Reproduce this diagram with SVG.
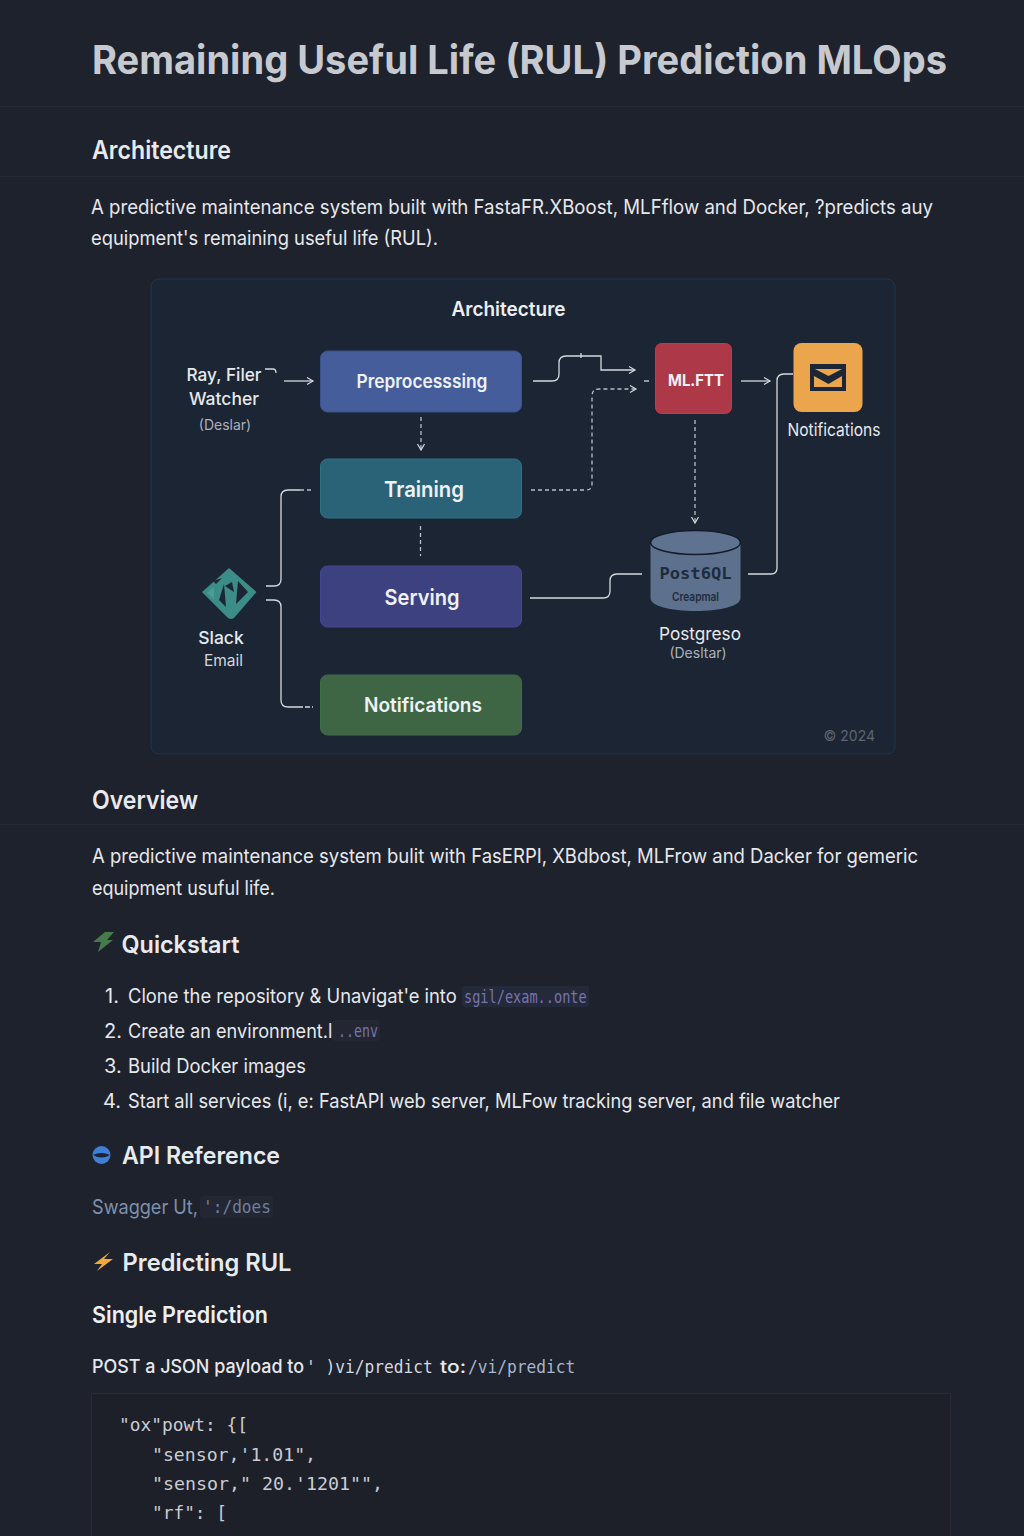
<svg xmlns="http://www.w3.org/2000/svg" width="1024" height="1536" viewBox="0 0 1024 1536">
<style>
text{font-family:"Inter","Liberation Sans",sans-serif;fill:#e6e8ec}
.mono{font-family:"DejaVu Sans Mono","Liberation Mono",monospace}
.p{font-size:20px;font-weight:400}
.h2{font-size:25px;font-weight:600;fill:#e8eaee}
.h3{font-size:24px;font-weight:600;fill:#e8eaee}
.node{font-size:20px;font-weight:600;text-anchor:middle;fill:#eef1f6}
.lab{font-size:17.5px;font-weight:500;text-anchor:middle;fill:#e6e8ec}
.sub{font-size:14px;text-anchor:middle;fill:#aab1bc}
.code{font-size:17.5px;fill:#c9ccd2}
.ic{font-size:17px;fill:#7474b0}
.rule{stroke:#262a34;stroke-width:1}
.c{fill:none;stroke:#d5d8de;stroke-width:1.3}
.d{stroke-dasharray:4 3;stroke:#b9bec6}
</style>
<defs>
<marker id="a" markerWidth="10" markerHeight="10" refX="8" refY="5" orient="auto" markerUnits="userSpaceOnUse"><path d="M2 1.5L8 5L2 8.500" fill="none" stroke="#d5d8de" stroke-width="1.200"/></marker>
</defs>
<rect width="1024" height="1536" fill="#1e222c"/>
<g id="page-header">
<text x="92" y="74" font-size="39.500" font-weight="700" style="fill:#c6cad0" textLength="855" lengthAdjust="spacingAndGlyphs">Remaining Useful Life (RUL) Prediction MLOps</text>
<line class="rule" x1="0" y1="106.500" x2="1024" y2="106.500"/>
<text class="h2" x="92" y="159" textLength="139" lengthAdjust="spacingAndGlyphs">Architecture</text>
<line class="rule" x1="0" y1="176.500" x2="1024" y2="176.500"/>
<text class="p" x="91" y="214" textLength="842" lengthAdjust="spacingAndGlyphs">A predictive maintenance system built with FastaFR.XBoost, MLFflow and Docker, ?predicts auy</text>
<text class="p" x="91" y="245" textLength="347" lengthAdjust="spacingAndGlyphs">equipment's remaining useful life (RUL).</text>
</g>
<rect id="panel" x="151" y="279" width="744" height="475" rx="8" fill="#1c2533" stroke="#20344e"/>
<text x="508.500" y="316" font-size="19.500" font-weight="600" text-anchor="middle" style="fill:#eceef2" textLength="114" lengthAdjust="spacingAndGlyphs">Architecture</text>
<g id="connectors">
<path class="c" marker-end="url(#a)" d="M284 381H313"/>
<path class="c" d="M265 369H273Q276 369 276 373"/>
<path class="c" marker-end="url(#a)" d="M533 381H552Q559 381 559 374V363Q559 356 566 356H601V370H635"/>
<path class="c" d="M581 353V358"/>
<path class="c d" marker-end="url(#a)" d="M421 417V450"/>
<path class="c d" d="M420.500 526V556"/>
<path class="c d" marker-end="url(#a)" d="M531 490H586Q592 490 592 484V396Q592 389 599 389H636"/>
<path class="c" d="M644 381H649"/>
<path class="c" marker-end="url(#a)" d="M741 381H770"/>
<path class="c d" marker-end="url(#a)" d="M695 420V523"/>
<path class="c" stroke-width="1.600" d="M530 598H603Q610 598 610 591V581Q610 574 617 574H642"/>
<path class="c" d="M748 574H771Q777 574 777 568V381Q777 374 784 374H793"/>
<path class="c" d="M266 586H274Q281 586 281 579V497Q281 490 288 490H300"/>
<path class="c d" d="M300 490H313"/>
<path class="c" d="M266 600H274Q281 600 281 607V700Q281 707 288 707H298"/>
<path class="c" stroke-dasharray="5 2" d="M298 707H313"/>
</g>
<g id="source"><text class="lab" x="224" y="381" textLength="75" lengthAdjust="spacingAndGlyphs">Ray, Filer</text><text class="lab" x="224" y="405">Watcher</text><text class="sub" x="225" y="430">(Deslar)</text></g>
<g id="preprocessing"><rect x="320.500" y="351" width="201" height="61" rx="7" fill="#465d9b" stroke="#3d5288"/><text class="node" x="422" y="388" style="font-size:18.500px" textLength="131" lengthAdjust="spacingAndGlyphs">Preprocesssing</text></g>
<g id="training"><rect x="320.500" y="459" width="201" height="59" rx="7" fill="#2a6378" stroke="#2d7386"/><text class="node" x="424" y="497" style="font-size:22px" textLength="80" lengthAdjust="spacingAndGlyphs">Training</text></g>
<g id="serving"><rect x="320.500" y="566" width="201" height="61" rx="7" fill="#3e4180" stroke="#444894"/><text class="node" x="422" y="605" style="font-size:22px" textLength="75" lengthAdjust="spacingAndGlyphs">Serving</text></g>
<g id="notifications"><rect x="320.500" y="675" width="201" height="60" rx="7" fill="#3e6645" stroke="#3e6e48"/><text class="node" x="423" y="712" style="font-size:20px" textLength="118" lengthAdjust="spacingAndGlyphs">Notifications</text></g>
<g id="mlflow"><rect x="655.500" y="343.500" width="76" height="70" rx="6" fill="#ad3848" stroke="#b93e4e"/><text class="node" x="696" y="386" style="font-size:16.500px;font-weight:700" textLength="56" lengthAdjust="spacingAndGlyphs">ML.FTT</text></g>
<g id="notify-icon"><rect x="793.500" y="343" width="69" height="69" rx="8" fill="#eba64d"/><rect x="810" y="364" width="36" height="27" fill="#1c2637"/><path d="M815 369H842L828.500 376Z" fill="#eba64d"/><path d="M814 376L828.500 384L842 376V387H814Z" fill="#eba64d"/><text class="lab" x="834" y="436" style="font-weight:400" textLength="93" lengthAdjust="spacingAndGlyphs">Notifications</text></g>
<g id="postgres"><path d="M650.500 544V598C650.500 606 670 611 695.500 611S740.500 606 740.500 598V544Z" fill="#5d708e"/><ellipse cx="695.500" cy="542.500" rx="45" ry="12" fill="#5f7391" stroke="#141c28" stroke-width="1.500"/><text x="695.500" y="579" class="mono" font-size="16.500" font-weight="700" text-anchor="middle" style="fill:#1d2c3c" textLength="72" lengthAdjust="spacingAndGlyphs">Post6QL</text><text x="695.500" y="601" font-size="11.500" font-weight="600" text-anchor="middle" style="fill:#1f2c3c" textLength="47" lengthAdjust="spacingAndGlyphs">Creapmal</text><text class="lab" x="700" y="640" style="font-weight:400" textLength="82" lengthAdjust="spacingAndGlyphs">Postgreso</text><text class="sub" x="698" y="658">(Desltar)</text></g>
<g id="slack"><path d="M229 568L256.500 592L234 618Q231 620 228 618L202 592Z" fill="#3c8d87"/><path d="M238 581L248 592L236 604ZM222 578L216 584L213 581ZM224 584L219 600L226 607ZM232 582L225 586L234 592Z" fill="#1c2533"/><path d="M214 587L207 593L214 599Z" fill="#4a9c96"/><text class="lab" x="221" y="644">Slack</text><text class="sub" x="223.500" y="666" style="font-size:15.500px;fill:#d2d5da">Email</text></g>
<text id="copyright" x="875" y="741" font-size="14" text-anchor="end" style="fill:#5d6672">© 2024</text>
<g id="overview">
<text class="h2" x="92" y="809" textLength="106" lengthAdjust="spacingAndGlyphs">Overview</text>
<line class="rule" x1="0" y1="824.500" x2="1024" y2="824.500"/>
<text class="p" x="92" y="863" textLength="826" lengthAdjust="spacingAndGlyphs">A predictive maintenance system bulit with FasERPI, XBdbost, MLFrow and Dacker for gemeric</text>
<text class="p" x="92" y="895" textLength="183" lengthAdjust="spacingAndGlyphs">equipment usuful life.</text>
</g>
<g id="quickstart">
<path d="M105 932H114L107 940H113L98 952L101 942H93Z" fill="#467a4a"/>
<text class="h3" x="121.500" y="953" textLength="118" lengthAdjust="spacingAndGlyphs">Quickstart</text>
<rect x="462" y="986" width="127" height="21" rx="3" fill="#252a3a"/>
<text class="p" x="105" y="1003">1.</text>
<text class="p" transform="translate(128 1003) scale(.942 1)" style="font-size:19.500px">Clone the repository &amp; Unavigat'e into</text>
<text class="ic mono" transform="translate(464 1003) scale(.8 1)">sgil/exam..onte</text>
<rect x="332" y="1020" width="48" height="21" rx="3" fill="#232734"/>
<text class="p" x="104" y="1038">2.</text>
<text class="p" transform="translate(128 1038) scale(.93 1)" style="font-size:19.500px">Create an environment.l</text>
<text class="ic mono" transform="translate(338 1037) scale(.78 1)">..env</text>
<text class="p" x="104" y="1073">3.</text>
<text class="p" x="128" y="1073" textLength="178" lengthAdjust="spacingAndGlyphs">Build Docker images</text>
<text class="p" x="103" y="1108">4.</text>
<text class="p" x="128" y="1108" textLength="712" lengthAdjust="spacingAndGlyphs">Start all services (i, e: FastAPI  web server, MLFow tracking server, and file watcher</text>
</g>
<g id="api-reference">
<circle cx="101.500" cy="1155" r="9" fill="#3f7fd6"/><path d="M93 1155Q101.500 1151 110 1155Q101.500 1160 93 1155Z" fill="#1c2433"/>
<text class="h3" x="122" y="1164" textLength="158" lengthAdjust="spacingAndGlyphs">API Reference</text>
<rect x="200" y="1196" width="73" height="22" rx="3" fill="#222733"/>
<text class="p" x="92" y="1214" style="fill:#7f90ad" textLength="106" lengthAdjust="spacingAndGlyphs">Swagger Ut,</text>
<text class="mono" x="203" y="1213" font-size="17.500" style="fill:#6f7f9c" textLength="68" lengthAdjust="spacingAndGlyphs">':/does</text>
</g>
<g id="predicting">
<path d="M110 1252L94 1264H102L97 1271L113 1259H104Z" fill="#f2a93b"/>
<text class="h3" x="122.500" y="1271" textLength="169" lengthAdjust="spacingAndGlyphs">Predicting RUL</text>
<text x="92" y="1323" font-size="22.500" font-weight="600" style="fill:#eceef2" textLength="176" lengthAdjust="spacingAndGlyphs">Single Prediction</text>
<text x="92" y="1373" font-size="18.500" font-weight="500" textLength="212" lengthAdjust="spacingAndGlyphs">POST a JSON payload to</text>
<text class="mono" font-size="18" style="fill:#d4d8e0" transform="translate(306 1373) scale(.9 1)">' )vi/predict</text>
<text x="440" y="1373" font-size="18" font-weight="500" textLength="26" lengthAdjust="spacingAndGlyphs">to:</text>
<text class="mono" font-size="18" style="fill:#a9b4cc" transform="translate(468 1373) scale(.9 1)">/vi/predict</text>
</g>
<g id="code-block">
<rect x="91.500" y="1393.500" width="859" height="150" fill="#1d2029" stroke="#272b35"/>
<text class="code mono" x="119" y="1431" textLength="129" lengthAdjust="spacingAndGlyphs">"ox"powt: {[</text>
<text class="code mono" x="152" y="1461" textLength="164" lengthAdjust="spacingAndGlyphs">"sensor,'1.01",</text>
<text class="code mono" x="152" y="1490" textLength="231" lengthAdjust="spacingAndGlyphs">"sensor," 20.'1201"",</text>
<text class="code mono" x="152" y="1519" textLength="75" lengthAdjust="spacingAndGlyphs">"rf": [</text>
</g>
</svg>
